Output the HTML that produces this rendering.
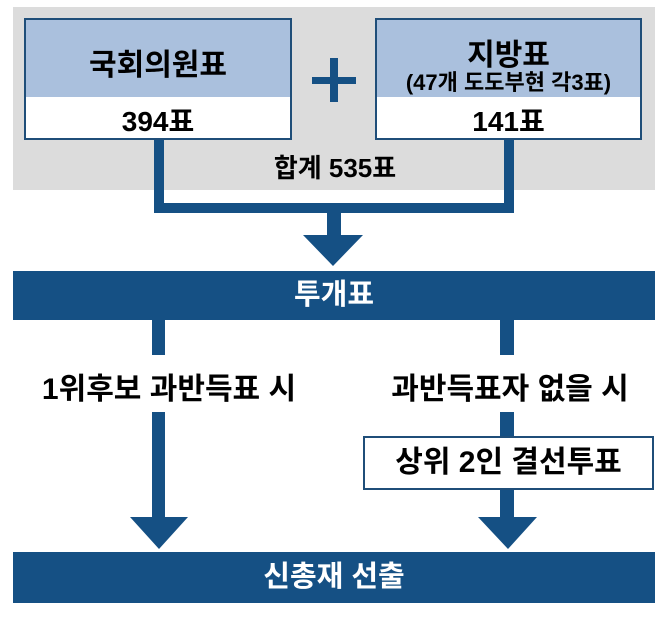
<!DOCTYPE html>
<html><head><meta charset="utf-8"><style>
body{margin:0;width:670px;height:618px;background:#fff;position:relative;overflow:hidden;font-family:"Liberation Sans","Noto Sans CJK KR",sans-serif;font-weight:bold;}
div{position:absolute;box-sizing:border-box;}
.b{background:#155084;}
.t{text-align:center;color:#000;white-space:nowrap;}
</style></head><body>
<div style="left:13px;top:7px;width:642px;height:183px;background:#dcdcdc"></div>
<div style="left:24px;top:18px;width:268px;height:122px;border:2px solid #1f4e79;background:#fff">
 <div style="left:0;top:0;width:100%;height:77px;background:#aac0dd"></div>
 <div class="t" style="left:0;top:20px;width:100%;font-size:30px">국회의원표</div>
 <div class="t" style="left:0;top:80px;width:100%;font-size:28px">394표</div>
</div>
<div style="left:375px;top:18px;width:267px;height:122px;border:2px solid #1f4e79;background:#fff">
 <div style="left:0;top:0;width:100%;height:77px;background:#aac0dd"></div>
 <div class="t" style="left:0;top:10px;width:100%;font-size:30px">지방표</div>
 <div class="t" style="left:0;top:45px;width:100%;font-size:22px">(47개 도도부현 각3표)</div>
 <div class="t" style="left:0;top:80px;width:100%;font-size:28px">141표</div>
</div>
<div class="b" style="left:312px;top:77px;width:44px;height:7px"></div>
<div class="b" style="left:330px;top:58px;width:8px;height:44px"></div>
<div class="b" style="left:154px;top:140px;width:10px;height:73px"></div>
<div class="b" style="left:504px;top:140px;width:10px;height:73px"></div>
<div class="b" style="left:154px;top:203px;width:360px;height:10px"></div>
<div class="t" style="left:200px;top:148px;width:270px;font-size:26px">합계 535표</div>
<div class="b" style="left:327px;top:213px;width:14px;height:24px"></div>
<svg style="position:absolute;left:0;top:0" width="670" height="618">
<polygon points="303,235 363,235 333,266" fill="#155084"/>
<polygon points="130,517 188,517 159,549" fill="#155084"/>
<polygon points="478,517 537,517 508,549" fill="#155084"/>
</svg>
<div class="b t" style="left:13px;top:271px;width:642px;height:49px;color:#fff;font-size:29px;line-height:49px">투개표</div>
<div class="b" style="left:152px;top:320px;width:13px;height:35px"></div>
<div class="b" style="left:500px;top:320px;width:14px;height:35px"></div>
<div class="t" style="left:20px;top:364px;width:298px;font-size:30px">1위후보 과반득표 시</div>
<div class="t" style="left:360px;top:364px;width:300px;font-size:30px">과반득표자 없을 시</div>
<div class="b" style="left:152px;top:412px;width:13px;height:107px"></div>
<div class="b" style="left:500px;top:412px;width:14px;height:107px"></div>
<div class="t" style="left:363px;top:436px;width:291px;height:54px;border:2px solid #1f4e79;background:#fff;font-size:30px;line-height:50px">상위 2인 결선투표</div>
<div class="b t" style="left:13px;top:552px;width:642px;height:51px;color:#fff;font-size:29px;line-height:51px">신총재 선출</div>
</body></html>
